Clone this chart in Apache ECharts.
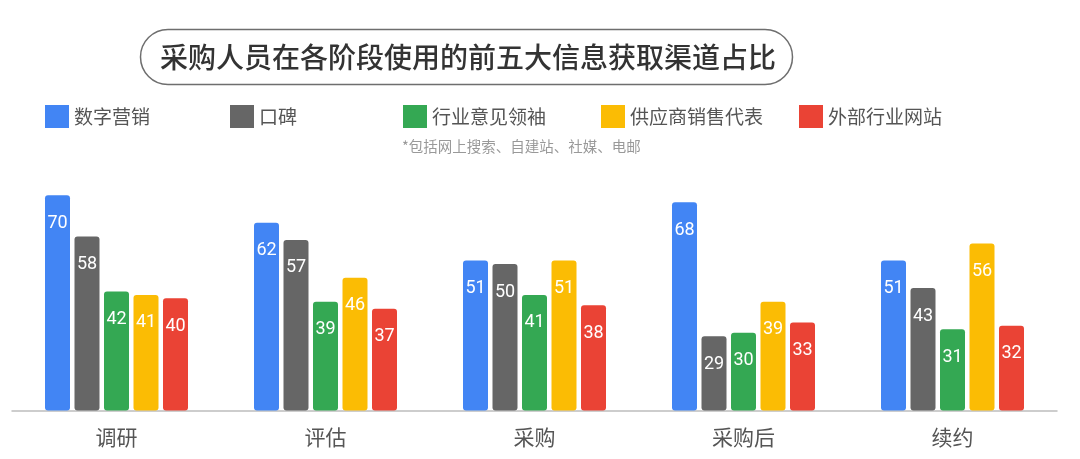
<!DOCTYPE html>
<html><head><meta charset="utf-8">
<script src="https://cdn.jsdelivr.net/npm/echarts@6/dist/echarts.min.js"></script>
<style>html,body{margin:0;padding:0;background:#fff}#c{width:1080px;height:459px}</style>
</head><body><div id="c"></div>
<script>
const titleText = '采购人员在各阶段使用的前五大信息获取渠道占比';
const noteText = '*包括网上搜索、自建站、社媒、电邮';
const categories = ['调研', '评估', '采购', '采购后', '续约'];
const seriesNames = ['数字营销', '口碑', '行业意见领袖', '供应商销售代表', '外部行业网站'];
const colors = ['#4285F4', '#666666', '#34A853', '#FBBC04', '#EA4335'];
const digitalMarketing = [70, 62, 51, 68, 51];
const wordOfMouth = [58, 57, 50, 29, 43];
const industryLeaders = [42, 39, 41, 30, 31];
const vendorSales = [41, 46, 51, 39, 56];
const industrySites = [40, 37, 38, 33, 32];
const seriesData = [digitalMarketing, wordOfMouth, industryLeaders, vendorSales, industrySites];
const legendLefts = [45, 230, 403, 601, 799];

const chart = echarts.init(document.getElementById('c'), null, {renderer: 'canvas'});
const cjk = '"Noto Sans CJK SC", "Noto Sans", sans-serif';
chart.setOption({
  backgroundColor: '#fff',
  animation: false,
  graphic: [
    {type: 'rect', shape: {x: 140.5, y: 29.5, width: 652, height: 55, r: 27.5},
     style: {fill: '#fff', stroke: '#6e6e6e', lineWidth: 1.5}},
    {type: 'text', left: 160, top: 43, style: {text: titleText, font: '500 28px ' + cjk, fill: '#333'}},
    {type: 'text', left: 402, top: 139, style: {text: noteText, font: '14.5px ' + cjk, fill: '#999'}}
  ],
  legend: seriesNames.map((n, i) => ({
    data: [n], left: legendLefts[i], top: 105, padding: 0, itemWidth: 24, itemHeight: 23, itemGap: 5,
    icon: 'rect', selectedMode: false,
    textStyle: {fontSize: 19, color: '#555', fontFamily: cjk, padding: [0, 0, 0, 0]}
  })),
  grid: {left: 12, right: 23, top: 161, bottom: 48.5},
  xAxis: {
    type: 'category', data: categories,
    axisTick: {show: false},
    axisLine: {lineStyle: {color: '#bdbdbd', width: 1.5}},
    axisLabel: {fontSize: 21, color: '#555', margin: 16, fontFamily: cjk}
  },
  yAxis: {type: 'value', min: 7.35, max: 80, show: false, splitLine: {show: false}},
  series: seriesNames.map((n, i) => ({
    name: n, type: 'bar', data: seriesData[i],
    barWidth: 25, barGap: '18%',
    itemStyle: {color: colors[i], borderRadius: 3},
    label: {show: true, position: 'insideTop', distance: 19, color: '#fff', fontSize: 18, fontFamily: 'Roboto, sans-serif'}
  }))
});
</script></body></html>
